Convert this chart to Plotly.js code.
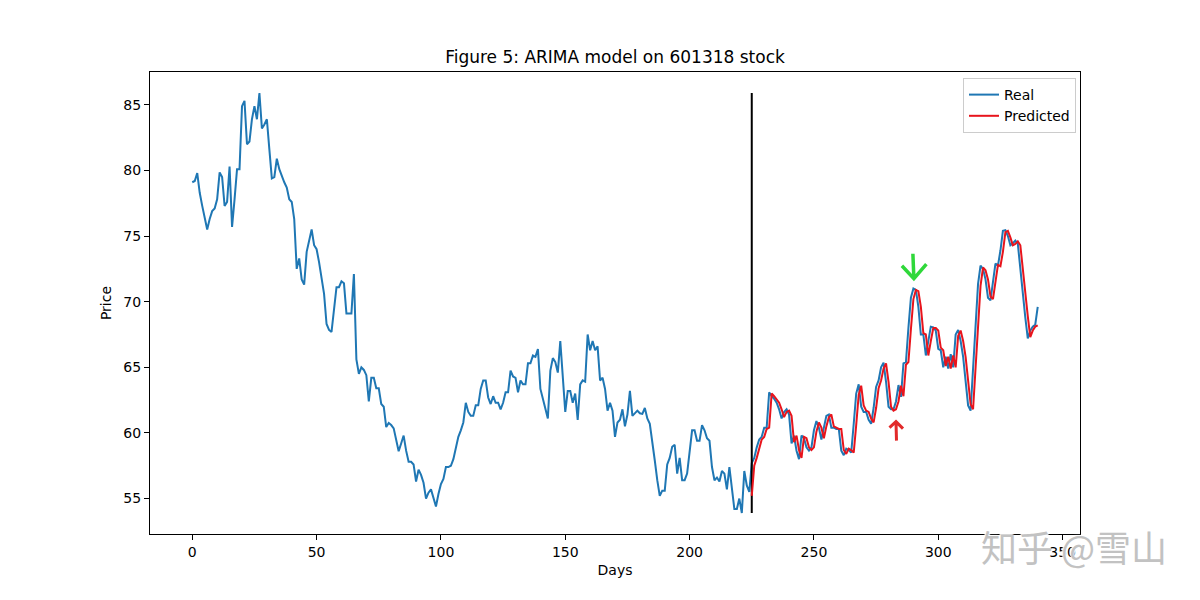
<!DOCTYPE html>
<html>
<head>
<meta charset="utf-8">
<script src="https://cdn.plot.ly/plotly-3.0.1.min.js"></script>
<style>
  html, body { margin: 0; padding: 0; background: #fff; }
  #plot { width: 1200px; height: 600px; }
</style>
</head>
<body>
<div id="plot"></div>
<script>
// --- Data ---
// daily closing price, day 0..340
const realPrice = [
  79.1, 79.2, 79.8, 78.3, 77.3, 76.5, 75.5, 76.3, 76.9, 77.1,
  77.8, 79.85, 79.5, 77.3, 77.6, 80.3, 75.7, 77.8, 80.1, 80.1,
  84.9, 85.3, 82.0, 82.2, 83.9, 84.9, 83.9, 85.9, 83.2, 83.5,
  83.9, 81.6, 79.4, 79.5, 80.9, 80.1, 79.55, 79.1, 78.7, 77.8,
  77.6, 76.3, 72.5, 73.3, 71.7, 71.3, 73.8, 74.8, 75.5, 74.3,
  74.0, 73.0, 71.9, 70.6, 68.3, 67.85, 67.7, 69.6, 71.1, 71.1,
  71.55, 71.4, 69.1, 69.1, 69.1, 72.1, 65.6, 64.5, 65.0, 64.8,
  64.4, 62.4, 64.2, 64.2, 63.4, 63.4, 62.2, 62.0, 60.45, 60.75,
  60.6, 60.35, 59.5, 58.6, 59.2, 59.8, 58.65, 57.8, 57.8, 57.6,
  56.3, 57.2, 56.8, 56.2, 55.0, 55.45, 55.7, 55.0, 54.4, 55.35,
  56.1, 56.5, 57.4, 57.4, 57.5, 58.0, 58.9, 59.7, 60.2, 60.8,
  62.3, 61.6, 61.3, 61.3, 62.1, 62.1, 63.35, 64.0, 64.0, 62.7,
  62.2, 62.8, 62.3, 62.3, 61.8, 62.3, 63.1, 63.1, 64.75, 64.3,
  64.2, 63.1, 64.0, 63.7, 63.7, 65.3, 65.3, 65.9, 65.8, 66.4,
  63.35, 62.6, 61.8, 61.1, 64.75, 65.7, 65.4, 64.6, 67.0, 64.1,
  61.6, 63.2, 63.2, 62.3, 63.0, 61.0, 63.7, 64.0, 63.9, 67.5,
  66.3, 67.0, 66.3, 66.6, 64.0, 64.2, 63.35, 61.7, 62.3, 61.7,
  59.7, 60.8, 61.0, 61.8, 60.5, 61.4, 63.2, 61.3, 61.5, 61.7,
  61.5, 61.45, 61.9, 61.1, 60.7, 59.4, 57.9, 56.4, 55.2, 55.6,
  55.6, 57.6, 58.1, 58.95, 59.1, 56.9, 58.1, 56.4, 56.4, 56.9,
  58.45, 60.2, 60.2, 59.4, 59.4, 60.6, 60.2, 59.6, 59.4, 57.4,
  56.4, 56.6, 56.3, 57.1, 56.9, 55.7, 57.4, 55.9, 54.2, 54.2,
  55.0, 53.9, 57.1, 56.0, 55.5, 57.7, 58.1, 58.9, 59.5, 59.7,
  60.4, 60.4, 63.1, 62.8, 62.6, 62.3, 61.8, 61.1, 61.6, 61.8,
  61.4, 59.2, 59.8, 58.65, 58.0, 59.8, 59.6, 58.9, 58.65, 58.9,
  60.2, 60.9, 60.4, 59.5, 60.5, 61.3, 61.4, 60.4, 60.4, 60.3,
  60.3, 58.65, 58.3, 58.8, 58.7, 58.5, 60.7, 63.0, 63.7, 62.0,
  61.6, 61.6, 61.0, 60.7, 61.9, 63.5, 64.0, 65.0, 65.35, 63.9,
  62.0, 61.8, 61.8, 62.4, 63.65, 62.75, 65.3, 65.4, 68.0, 70.3,
  71.0, 70.9, 69.6, 67.5, 67.5, 65.9, 67.0, 68.1, 68.05, 67.8,
  66.4, 66.3, 65.0, 65.8, 64.9, 66.0, 65.0, 67.5, 67.85, 67.0,
  65.8, 64.0, 62.1, 61.7, 65.0, 68.55, 71.35, 72.75, 72.5, 71.7,
  70.3, 70.1, 71.65, 72.9, 72.75, 73.9, 75.4, 75.45, 75.0, 74.3,
  74.45, 74.65, 74.4, 72.35, 70.6, 68.8, 67.2, 67.8, 68.1, 68.25,
  69.6
];

// ARIMA one-step predictions for the test part (last 116 days)
const predictedPrice = [
  55.2, 57.5, 58.1, 58.8, 59.5, 59.7, 60.3, 60.4, 63.0, 62.8,
  62.5, 62.3, 61.8, 61.2, 61.6, 61.7, 61.3, 59.3, 59.8, 58.7,
  58.1, 59.7, 59.6, 58.9, 58.7, 58.9, 60.1, 60.8, 60.4, 59.6,
  60.5, 61.2, 61.4, 60.5, 60.4, 60.3, 60.3, 58.7, 58.4, 58.8,
  58.7, 58.5, 60.6, 62.9, 63.6, 62.1, 61.7, 61.6, 61.1, 60.8,
  61.9, 63.4, 64.0, 64.9, 65.3, 63.9, 62.0, 61.7, 61.8, 62.4,
  63.6, 62.8, 65.2, 65.4, 67.9, 70.2, 70.9, 70.8, 69.6, 67.6,
  67.5, 65.9, 67.0, 68.0, 68.0, 67.8, 66.5, 66.3, 65.1, 65.8,
  64.9, 65.9, 65.0, 67.4, 67.8, 67.0, 65.8, 64.1, 62.2, 61.8,
  64.9, 68.4, 71.2, 72.6, 72.4, 71.7, 70.4, 70.2, 71.6, 72.8,
  72.7, 73.8, 75.3, 75.4, 74.9, 74.3, 74.4, 74.6, 74.3, 72.4,
  70.7, 68.9, 67.3, 67.8, 68.1, 68.2
];

const xTicks = [0, 50, 100, 150, 200, 250, 300, 350];
const yTicks = [55, 60, 65, 70, 75, 80, 85];

// --- Build traces ---
const days = realPrice.map((_, i) => i);
const split = realPrice.length - predictedPrice.length;
const predDays = predictedPrice.map((_, i) => split + i);
const lo = Math.min(...realPrice), hi = Math.max(...realPrice);

const lastDay = days[days.length - 1];
const xPad = lastDay * 0.05, yPad = (hi - lo) * 0.05;

const FONT = 'DejaVu Sans, Liberation Sans, sans-serif';

const traces = [
  { x: days, y: realPrice, type: 'scatter', mode: 'lines', name: 'Real',
    line: { color: '#1f77b4', width: 2 } },
  { x: [split, split], y: [lo, hi], type: 'scatter', mode: 'lines', showlegend: false,
    line: { color: '#000000', width: 2 }, hoverinfo: 'skip' },
  { x: predDays, y: predictedPrice, type: 'scatter', mode: 'lines', name: 'Predicted',
    line: { color: '#e8141c', width: 2 } }
];

const axisStyle = {
  showgrid: false, zeroline: false, showline: true, mirror: true,
  linecolor: '#000', linewidth: 1, ticks: 'outside', ticklen: 5, tickwidth: 1,
  tickcolor: '#000', tickfont: { family: FONT, size: 14, color: '#000' }
};

const layout = {
  width: 1200, height: 600,
  margin: { l: 150, r: 120, t: 72, b: 66 },
  paper_bgcolor: '#fff', plot_bgcolor: '#fff',
  font: { family: FONT, color: '#000' },
  title: { text: 'Figure 5: ARIMA model on 601318 stock', font: { family: FONT, size: 17, color: '#000' },
           xref: 'paper', x: 0.5, yref: 'container', y: 0.905, yanchor: 'middle' },
  xaxis: Object.assign({}, axisStyle, {
    range: [-xPad, lastDay + xPad], tickvals: xTicks,
    title: { text: 'Days', font: { family: FONT, size: 14, color: '#000' }, standoff: 6 }
  }),
  yaxis: Object.assign({}, axisStyle, {
    range: [lo - yPad, hi + yPad], tickvals: yTicks,
    title: { text: 'Price', font: { family: FONT, size: 14, color: '#000' }, standoff: 8 }
  }),
  showlegend: true,
  legend: {
    x: 0.9957, y: 0.987, xanchor: 'right', yanchor: 'top',
    bgcolor: 'rgba(255,255,255,0.85)', bordercolor: '#cccccc', borderwidth: 1,
    font: { family: FONT, size: 14, color: '#000' }, tracegroupgap: 0
  },
  shapes: [
    // hand drawn green arrow (points down at the peak)
    { type: 'path', xref: 'x', yref: 'y', xsizemode: 'pixel', ysizemode: 'pixel',
      xanchor: 290.2, yanchor: 71.75,
      path: 'M-1,25 L0,0 M-12,13 L0,0 L12.5,14.5',
      line: { color: '#2fd83a', width: 3.5 } },
    // hand drawn red arrow (points up at the dip)
    { type: 'path', xref: 'x', yref: 'y', xsizemode: 'pixel', ysizemode: 'pixel',
      xanchor: 283.0, yanchor: 60.86,
      path: 'M0.5,-19 L0,0 M-6.5,-6 L0,0 L7,-7',
      line: { color: '#e22a2a', width: 3 } }
  ],
  annotations: [
    { text: '知乎 @雪山', xref: 'paper', yref: 'paper', x: 0.9935, y: -0.026,
      xanchor: 'center', yanchor: 'middle', showarrow: false,
      font: { family: 'Noto Sans CJK SC, sans-serif', size: 36, color: '#c2c2c2',
              shadow: '1px 1px 1px #fff, -1px -1px 1px #fff' } }
  ]
};

Plotly.newPlot('plot', traces, layout, { displayModeBar: false, staticPlot: true });
</script>
</body>
</html>
